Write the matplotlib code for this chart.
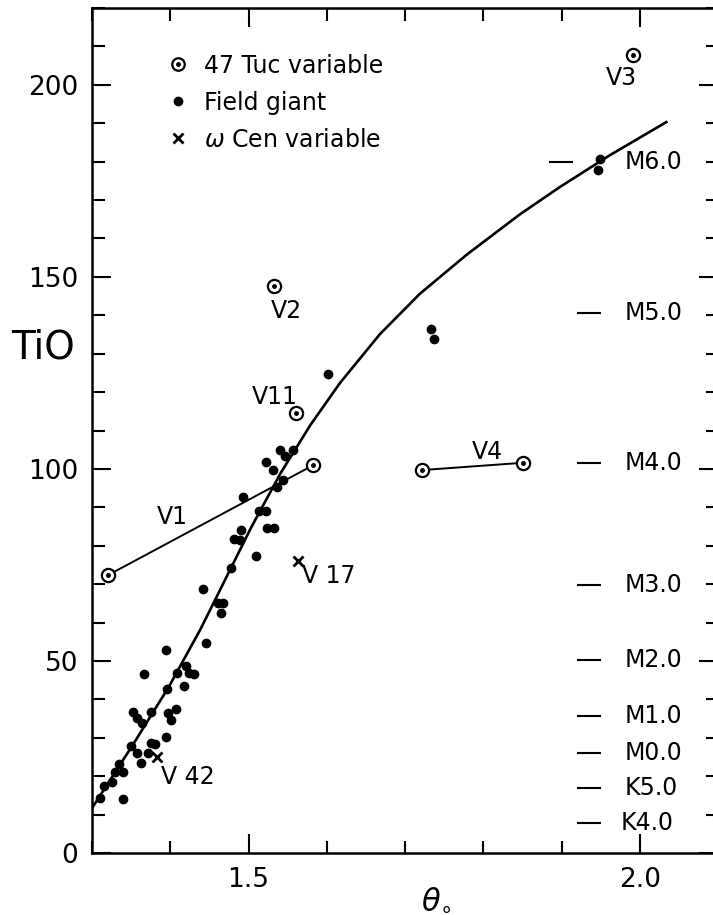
import numpy as np
import matplotlib
matplotlib.use('Agg')
import matplotlib.pyplot as plt
from matplotlib.lines import Line2D
from matplotlib.legend_handler import HandlerTuple
from matplotlib.ticker import MultipleLocator, FixedLocator

# field giants (theta_0, TiO)
giant_theta = [1.540, 1.557, 1.547, 1.522, 1.531, 1.544, 1.537, 1.493, 1.513, 1.523,
               1.524, 1.532, 1.491, 1.482, 1.489, 1.509, 1.477, 1.442, 1.461, 1.468,
               1.465, 1.446, 1.395, 1.366, 1.420, 1.408, 1.424, 1.430, 1.417, 1.396,
               1.352, 1.358, 1.364, 1.375, 1.397, 1.407, 1.401, 1.394, 1.375, 1.381,
               1.350, 1.358, 1.371, 1.362, 1.335, 1.339, 1.329, 1.326, 1.315, 1.310,
               1.340, 1.602, 1.733, 1.737, 1.949, 1.947]
giant_tio = [104.9, 104.8, 103.4, 101.9, 99.7, 97.0, 95.4, 92.8, 89.1, 89.1,
             84.7, 84.7, 84.1, 81.7, 81.5, 77.3, 74.1, 68.7, 65.0, 65.0,
             62.4, 54.8, 52.9, 46.6, 48.7, 46.8, 46.8, 46.6, 43.5, 42.6,
             36.8, 35.1, 33.8, 36.8, 36.4, 37.4, 34.6, 30.1, 28.6, 28.4,
             27.9, 26.0, 26.0, 23.5, 23.3, 21.2, 21.2, 18.6, 17.5, 14.2,
             14.0, 124.7, 136.5, 133.8, 180.7, 177.9]

# 47 Tuc variables: V1 and V4 have two measurements joined by a line
v1_theta = [1.321, 1.583]
v1_tio = [72.4, 101.0]
v4_theta = [1.722, 1.851]
v4_tio = [99.7, 101.6]
tuc_theta = [1.532, 1.561, 1.991]   # V2, V11, V3
tuc_tio = [147.7, 114.6, 207.8]

# omega Cen variables (V17, V42)
omega_theta = [1.563, 1.383]
omega_tio = [76.0, 25.1]

# mean relation drawn through the field giants
curve_theta = [1.301, 1.352, 1.398, 1.439, 1.471, 1.503, 1.541, 1.579, 1.617, 1.668,
               1.719, 1.779, 1.847, 1.898, 1.962, 2.034]
curve_tio = [12.0, 28.1, 43.2, 58.4, 71.5, 84.6, 98.9, 111.4, 122.4, 135.1,
             145.6, 155.8, 166.3, 173.4, 181.7, 190.3]

# star labels
star_names = ['V1', 'V2', 'V11', 'V 17', 'V 42', 'V3', 'V4']
star_theta = [1.402, 1.548, 1.534, 1.602, 1.423, 1.976, 1.805]
star_tio = [87.5, 141.1, 118.6, 72.1, 19.8, 201.8, 104.4]

# spectral type scale on the right
sp_types = ['M6.0', 'M5.0', 'M4.0', 'M3.0', 'M2.0', 'M1.0', 'M0.0', 'K5.0', 'K4.0']
sp_tio = [179.8, 140.6, 101.5, 69.8, 50.3, 35.7, 26.0, 16.9, 7.8]
sp_dash_start = [1.884, 1.920, 1.920, 1.920, 1.920, 1.920, 1.920, 1.920, 1.920]

W, H = 713, 915
fig = plt.figure(figsize=(W / 100, H / 100), dpi=100)
ax = fig.add_axes([92 / W, 62 / H, 626 / W, 845 / H])

ax.plot(curve_theta, curve_tio, color='k', lw=1.9, zorder=2)
ax.plot(v1_theta, v1_tio, color='k', lw=1.4, zorder=2)
ax.plot(v4_theta, v4_tio, color='k', lw=1.4, zorder=2)

ax.plot(giant_theta, giant_tio, 'o', color='k', ms=6, zorder=3)

for th, t in [(v1_theta, v1_tio), (v4_theta, v4_tio), (tuc_theta, tuc_tio)]:
    ax.plot(th, t, 'o', mfc='white', mec='k', ms=9.5, mew=1.6, zorder=4)
    ax.plot(th, t, 'o', color='k', ms=2.5, zorder=5)

ax.plot(omega_theta, omega_tio, 'x', color='k', ms=7, mew=2, zorder=4)

for name, th, t in zip(star_names, star_theta, star_tio):
    ax.text(th, t, name, fontsize=17, ha='center', va='center')

for sp, t, x0 in zip(sp_types, sp_tio, sp_dash_start):
    ax.plot([x0, x0 + 0.031], [t, t], color='k', lw=1.5, solid_capstyle='butt')
    ax.text(1.981 if sp != 'K4.0' else 1.976, t, sp, fontsize=17, ha='left', va='center')

# legend
tuc_handle = (Line2D([], [], marker='o', ls='none', mfc='white', mec='k', ms=9, mew=1.6),
              Line2D([], [], marker='o', ls='none', color='k', ms=2.5))
dot_handle = Line2D([], [], marker='o', ls='none', color='k', ms=6)
x_handle = Line2D([], [], marker='x', ls='none', color='k', ms=7, mew=2)
ax.legend([tuc_handle, dot_handle, x_handle],
          ['47 Tuc variable', 'Field giant', r'$\omega$ Cen variable'],
          handler_map={tuple: HandlerTuple(ndivide=1)},
          loc='upper left', bbox_to_anchor=(0.122, 0.946), frameon=False,
          fontsize=17, borderpad=0, borderaxespad=0, handlelength=0.8,
          handletextpad=0.7, labelspacing=0.55)

ax.set_xlim(1.3, 2.1)
ax.set_ylim(0, 220)
ax.xaxis.set_major_locator(FixedLocator([1.5, 2.0]))
ax.xaxis.set_minor_locator(MultipleLocator(0.1))
ax.xaxis.set_major_formatter(matplotlib.ticker.FormatStrFormatter('%.1f'))
ax.yaxis.set_major_locator(MultipleLocator(50))
ax.yaxis.set_minor_locator(MultipleLocator(10))
ax.tick_params(which='both', direction='in', top=True, right=True, labelsize=19, width=1.5)
ax.tick_params(which='major', length=14, pad=10)
ax.tick_params(which='minor', length=9)
for s in ax.spines.values():
    s.set_linewidth(1.8)

fig.text(43 / W, 1 - 348 / H, 'TiO', fontsize=28, ha='center', va='center')
fig.text(436 / W, 1 - 900 / H, r'$\theta_{\circ}$', fontsize=22, ha='center', va='center')

fig.savefig('out.png', dpi=100)
